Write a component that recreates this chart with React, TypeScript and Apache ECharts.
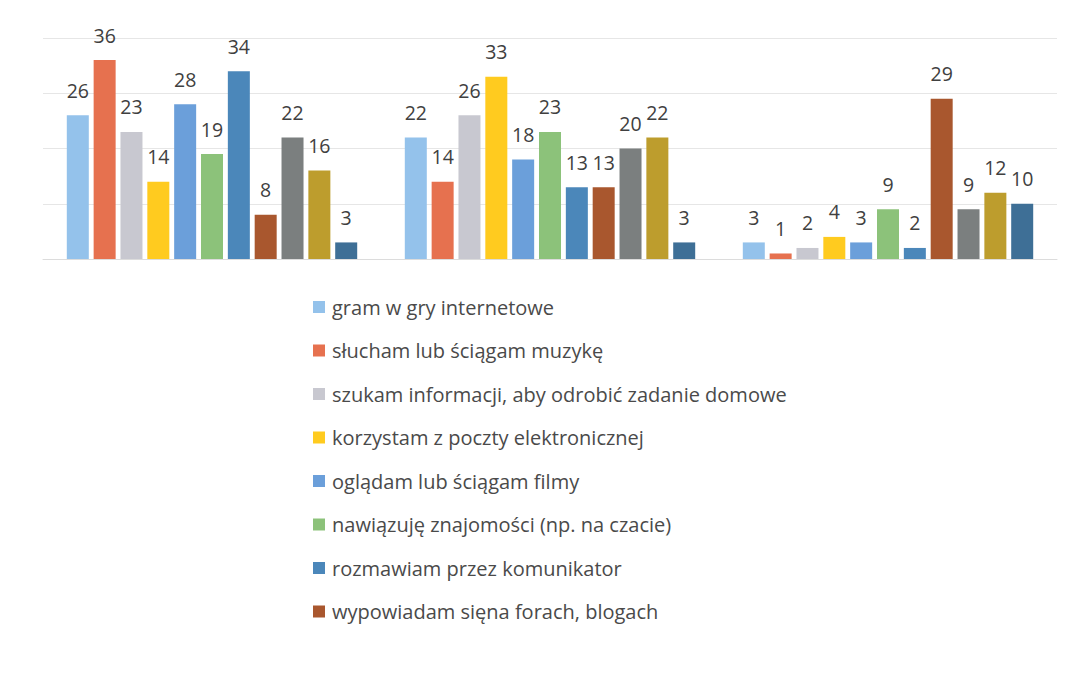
import React, { useEffect, useRef } from "react";
import * as echarts from "echarts";

const categories = ["A", "B", "C"];
const seriesNames = [
  "gram w gry internetowe",
  "słucham lub ściągam muzykę",
  "szukam informacji, aby odrobić zadanie domowe",
  "korzystam z poczty elektronicznej",
  "oglądam lub ściągam filmy",
  "nawiązuję znajomości (np. na czacie)",
  "rozmawiam przez komunikator",
  "wypowiadam sięna forach, blogach",
  "seria 9",
  "seria 10",
  "seria 11",
];
const legendNames = seriesNames.slice(0, 8);
const values = [
  [26, 22, 3],
  [36, 14, 1],
  [23, 26, 2],
  [14, 33, 4],
  [28, 18, 3],
  [19, 23, 9],
  [34, 13, 2],
  [8, 13, 29],
  [22, 20, 9],
  [16, 22, 12],
  [3, 3, 10],
];
const colors = [
  "#94c2eb",
  "#e6714f",
  "#c8c8d0",
  "#ffcb1f",
  "#6b9fda",
  "#8cc27a",
  "#4b87ba",
  "#a9572e",
  "#7b7f7f",
  "#bd9d2d",
  "#3e6f96",
];

export default function App() {
  const ref = useRef<HTMLDivElement>(null);
  useEffect(() => {
    document.body.style.margin = "0";
    const chart = echarts.init(ref.current!, undefined, { renderer: "svg" });
    const font = "Open Sans";
    chart.setOption({
      animation: false,
      backgroundColor: "#ffffff",
      grid: { left: 43, width: 1014, top: 38, height: 221 },
      legend: {
        data: legendNames,
        orient: "vertical",
        left: 308,
        top: 292,
        itemWidth: 12,
        itemHeight: 12,
        itemGap: 23.5,
        icon: "rect",
        textStyle: { fontFamily: font, fontSize: 20, lineHeight: 20, color: "#4a4a4a", padding: [0, 0, 0, 2] },
      },
      xAxis: {
        type: "category",
        data: categories,
        axisLine: { show: true, lineStyle: { color: "#dcdcdc" } },
        axisTick: { show: false },
        axisLabel: { show: false },
      },
      yAxis: {
        type: "value",
        min: 0,
        max: 40,
        interval: 10,
        axisLabel: { show: false },
        axisLine: { show: false },
        axisTick: { show: false },
        splitLine: { lineStyle: { color: "#e6e6e6", width: 1 } },
      },
      series: seriesNames.map((name, i) => ({
        type: "bar",
        name,
        data: values[i],
        barWidth: 22,
        barGap: "22%",
        itemStyle: { color: colors[i] },
        label: {
          show: true,
          position: "top",
          distance: 15,
          fontFamily: font,
          fontSize: 19.5,
          color: "#404040",
        },
      })),
    });
    return () => chart.dispose();
  }, []);
  return <div ref={ref} style={{ width: 1072, height: 682 }} />;
}
